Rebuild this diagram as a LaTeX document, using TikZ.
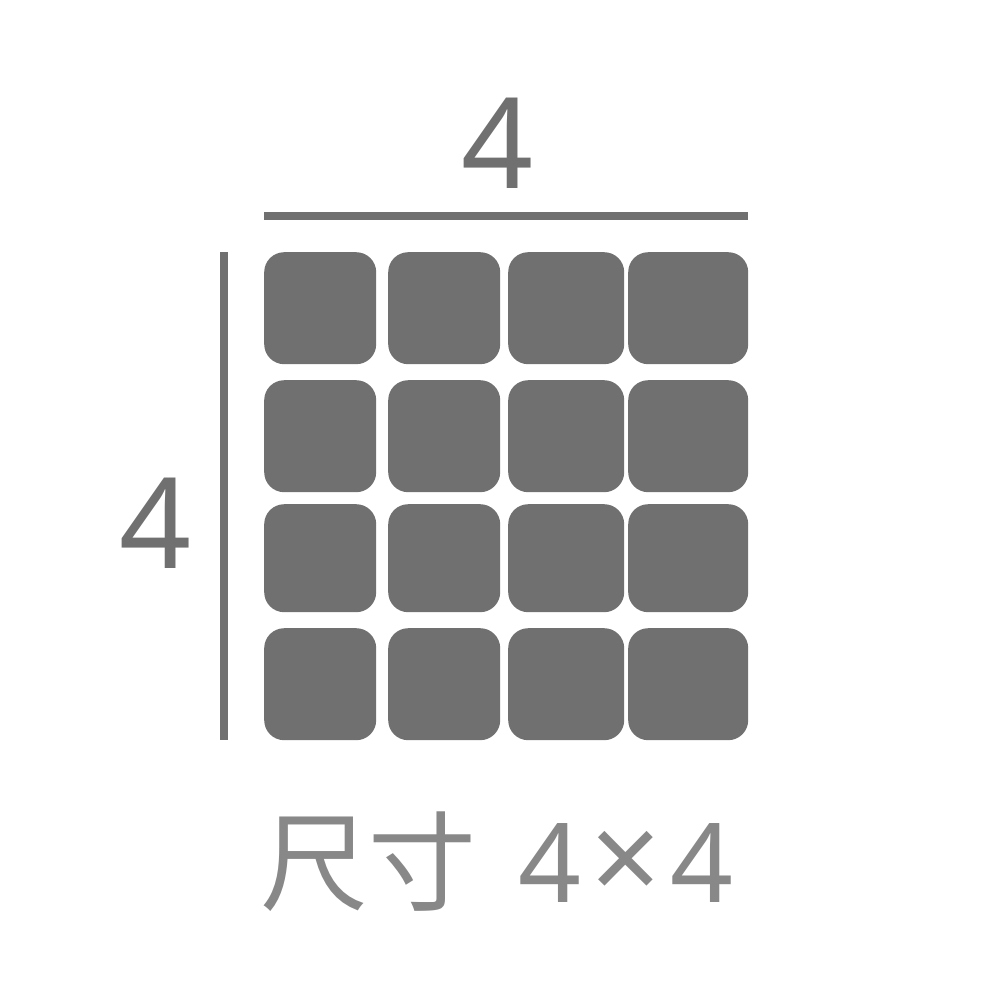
\documentclass[tikz,border=0pt]{standalone}
\usepackage{fontspec}
\setmainfont{Noto Sans}
\newfontfamily\cjk{Noto Sans CJK SC}
\definecolor{tilegray}{HTML}{707070}
\definecolor{labelgray}{HTML}{888888}
\begin{document}
\begin{tikzpicture}[x=1pt,y=-1pt,
  tile/.style={fill=tilegray,rounded corners=20pt,inner sep=0pt,anchor=north west},
  dimline/.style={draw=tilegray,line width=8pt},
  dimlabel/.style={text=tilegray,inner sep=0pt,anchor=base,font=\fontsize{126}{126}\selectfont}]
\useasboundingbox (0,0) rectangle (980,996);
\foreach \c/\xa/\xb in {1/264/376,2/388/500,3/508/624,4/628/748}{
  \foreach \r/\ya/\yb in {1/252/364,2/380/492,3/504/612,4/628/740}{
    \pgfmathsetmacro\w{\xb-\xa}
    \pgfmathsetmacro\h{\yb-\ya}
    \node[tile,minimum width=\w pt,minimum height=\h pt] (t\r\c) at (\xa,\ya) {};
  }
}
\coordinate (ha) at (264,216);
\coordinate (hb) at (748,216);
\coordinate (va) at (224,252);
\coordinate (vb) at (224,740);
\draw[dimline] (ha) -- (hb);
\draw[dimline] (va) -- (vb);
\node[dimlabel] (toplabel) at (498,188) {4};
\node[dimlabel] (leftlabel) at (156,568) {4};
\node[text=labelgray,inner sep=0pt,anchor=base west,font=\fontsize{110}{110}\selectfont] (caption) at (260,902) {{\cjk\fontsize{108}{108}\selectfont 尺寸} \kern14pt 4\kern9pt{\fontsize{124}{124}\selectfont ×}\kern9pt 4};
\end{tikzpicture}
\end{document}
